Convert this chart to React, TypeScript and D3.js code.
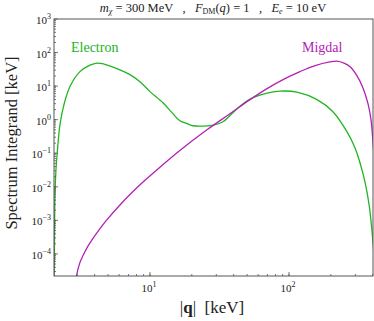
import React from 'react';
import * as d3 from 'd3';

// |q| in keV, spectrum integrand in keV
const electronQ = [2.049, 2.059, 2.073, 2.107, 2.161, 2.252, 2.406, 2.657, 3.136, 3.7, 4.16, 4.67, 5.79, 7.18, 8.47, 10, 12.4, 14.4, 16.4, 18.5, 20.4, 22.9, 28.4, 33.5, 39.5, 46.7, 55.1, 67.2, 86.1, 114, 159, 207, 261, 298, 324, 352, 377, 396, 402, 416];
const electronV = [1.67e-5, 5.2e-4, 5.8e-3, 0.032, 0.127, 0.71, 2.8, 9.7, 27, 42, 48.6, 45.4, 33.3, 22, 13.6, 6.85, 3.2, 1.62, 0.93, 0.76, 0.66, 0.64, 0.685, 0.87, 1.62, 3.0, 4.54, 5.97, 7.1, 6.6, 3.95, 1.73, 0.44, 0.146, 0.052, 0.0141, 2.9e-3, 4.5e-4, 2.1e-4, 4.7e-5];

const migdalQ = [2.91, 2.96, 3.136, 3.3, 3.58, 3.89, 4.37, 4.91, 6.08, 7.18, 9.2, 11.8, 16.4, 25.7, 37.6, 52.4, 69.5, 93.5, 120, 154, 197, 221, 249, 275, 308, 340, 370, 389, 402, 416];
const migdalV = [1.19e-5, 2.2e-5, 5.6e-5, 8.95e-5, 1.7e-4, 2.9e-4, 5.7e-4, 1.05e-3, 2.88e-3, 5.9e-3, 0.0156, 0.0385, 0.121, 0.5, 1.5, 3.95, 8.4, 16.7, 27.1, 41, 52.8, 55.7, 48.6, 38, 20.6, 9.0, 3.0, 1.0, 0.21, 0.023];

const yTickExps = [-4, -3, -2, -1, 0, 1, 2, 3];
const xTickExps = [1, 2];

const W = 374;
const H = 321;
const margin = { top: 19, right: 1, bottom: 45, left: 54 };
const FONT = '"Liberation Serif", "DejaVu Serif", serif';
const GREEN = '#22b422';
const MAGENTA = '#b420b4';

const App = () => {
  const x = d3.scaleLog().domain([2.04, 402]).range([margin.left, W - margin.right]);
  const y = d3.scaleLog().domain([2.2e-5, 1000]).range([H - margin.bottom, margin.top]);

  const line = d3
    .line<[number, number]>()
    .curve(d3.curveCatmullRom.alpha(0.5))
    .x(d => x(d[0]))
    .y(d => y(d[1]));

  const electron = electronQ.map((q, i) => [q, electronV[i]] as [number, number]);
  const migdal = migdalQ.map((q, i) => [q, migdalV[i]] as [number, number]);

  // minor ticks
  const yMinor: number[] = [];
  for (let e = -5; e < 3; e++) {
    for (let m = 1; m < 10; m++) {
      const v = m * Math.pow(10, e);
      if (v >= 2.2e-5 && v <= 1000) yMinor.push(v);
    }
  }
  const xMinor: number[] = [];
  for (let e = 0; e < 3; e++) {
    for (let m = 1; m < 10; m++) {
      const v = m * Math.pow(10, e);
      if (v >= 2.04 && v <= 402) xMinor.push(v);
    }
  }

  const x0 = margin.left;
  const x1 = W - margin.right;
  const y0 = margin.top;
  const y1 = H - margin.bottom;

  return (
    <svg width={W} height={H} style={{ position: 'absolute', left: 0, top: 0 }} fontFamily={FONT}>
      <defs>
        <clipPath id="plot">
          <rect x={x0} y={y0} width={x1 - x0} height={y1 - y0} />
        </clipPath>
      </defs>
      <rect width={W} height={H} fill="white" />

      {/* title */}
      <text x={213} y={12} textAnchor="middle" fontSize={12.5} fill="#222" style={{ whiteSpace: 'pre' }}>
        <tspan fontStyle="italic">m</tspan>
        <tspan fontStyle="italic" fontSize={8} dy={2}>χ</tspan>
        <tspan dy={-2}>{' = 300 MeV   ,   '}</tspan>
        <tspan fontStyle="italic">F</tspan>
        <tspan fontSize={8} dy={2}>DM</tspan>
        <tspan dy={-2}>(</tspan>
        <tspan fontStyle="italic">q</tspan>
        <tspan>{') = 1   ,   '}</tspan>
        <tspan fontStyle="italic">E</tspan>
        <tspan fontStyle="italic" fontSize={8} dy={2}>e</tspan>
        <tspan dy={-2}>{' = 10 eV'}</tspan>
      </text>

      {/* curves */}
      <g clipPath="url(#plot)" fill="none" strokeWidth={1.3}>
        <path d={line(electron) || ''} stroke={GREEN} />
        <path d={line(migdal) || ''} stroke={MAGENTA} />
      </g>

      {/* ticks */}
      <g stroke="#555" strokeWidth={0.8}>
        {yMinor.map((v, i) => (
          <line key={'ym' + i} x1={x0} x2={x0 + 2} y1={y(v)} y2={y(v)} />
        ))}
        {yTickExps.map(e => (
          <line key={'yM' + e} x1={x0} x2={x0 + 4} y1={y(Math.pow(10, e))} y2={y(Math.pow(10, e))} />
        ))}
        {xMinor.map((v, i) => (
          <line key={'xm' + i} x1={x(v)} x2={x(v)} y1={y1} y2={y1 - 2} />
        ))}
        {xTickExps.map(e => (
          <line key={'xM' + e} x1={x(Math.pow(10, e))} x2={x(Math.pow(10, e))} y1={y1} y2={y1 - 4} />
        ))}
      </g>

      {/* frame */}
      <rect x={x0} y={y0} width={x1 - x0} height={y1 - y0} fill="none" stroke="#555" strokeWidth={1} />

      {/* y tick labels */}
      {yTickExps.map(e => (
        <text key={'yl' + e} x={x0 - 3} y={y(Math.pow(10, e)) + 5} textAnchor="end" fontSize={11} fill="#222">
          10
          <tspan fontSize={8} dy={-5}>{e < 0 ? '−' + Math.abs(e) : String(e)}</tspan>
        </text>
      ))}

      {/* x tick labels */}
      {xTickExps.map(e => (
        <text key={'xl' + e} x={x(Math.pow(10, e)) - 1} y={y1 + 16} textAnchor="middle" fontSize={11} fill="#222">
          10
          <tspan fontSize={8} dy={-5}>{String(e)}</tspan>
        </text>
      ))}

      {/* axis titles */}
      <text x={212} y={313} textAnchor="middle" fontSize={17} fill="#222" style={{ whiteSpace: 'pre' }}>
        |<tspan fontWeight="bold">q</tspan>{'|  [keV]'}
      </text>
      <text
        transform={`translate(17, 143) rotate(-90)`}
        textAnchor="middle"
        fontSize={16.5}
        fill="#222"
      >
        Spectrum Integrand [keV]
      </text>

      {/* series labels */}
      <text x={71} y={52} fontSize={14} fill={GREEN}>Electron</text>
      <text x={302} y={52} fontSize={14} fill={MAGENTA}>Migdal</text>
    </svg>
  );
};

export default App;
